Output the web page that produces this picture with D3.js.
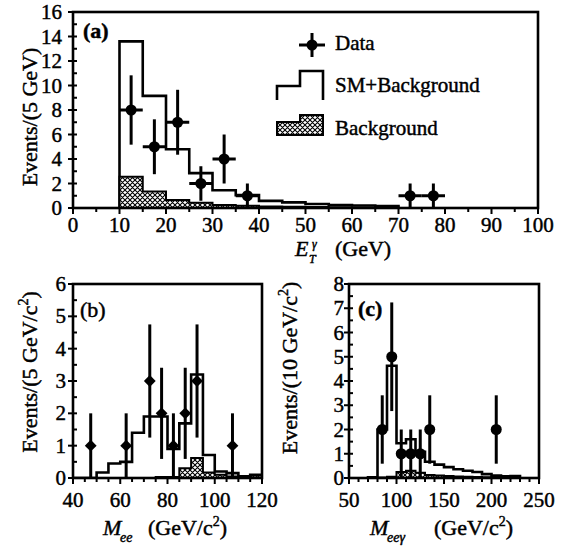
<!DOCTYPE html>
<html><head><meta charset="utf-8">
<script src="https://cdn.jsdelivr.net/npm/d3@7"></script>
<style>
html,body{margin:0;padding:0;background:#fff;}
svg text{stroke:#000;stroke-width:0.45px;fill:#000;}
</style></head>
<body>
<svg id="c" width="567" height="548" font-family="'Liberation Serif', 'Times New Roman', 'DejaVu Serif', serif"></svg>
<script>
// ---------- DATA ----------
// Panel (a): E_T^gamma, 5 GeV bins
const etBinLo = [10,15,20,25,30,35,40,45,50,55,60,65];
const etSMBkg = [13.6,9.15,4.8,2.85,1.45,1.05,0.58,0.46,0.33,0.25,0.2,0.15];
const etBkg   = [2.55,1.35,0.65,0.42,0.25,0.18,0.12,0.1,0.08,0.06,0.05,0.04];
const etDataX = [12.5,17.5,22.5,27.5,32.5,37.5,72.5,77.5];
const etDataY = [8,5,7,2,4,1,1,1];
const etDataErr = [2.83,2.24,2.65,1.41,2.0,1.0,1.0,1.0];
const etTicksX = [0,10,20,30,40,50,60,70,80,90,100];
const etTicksY = [0,2,4,6,8,10,12,14,16];

// Panel (b): M_ee, 5 GeV bins
const meeBinLo = [40,45,50,55,60,65,70,75,80,85,90,95,100,105,110,115];
const meeSMBkg = [0,0,0.17,0.45,0.5,1.4,1.9,1.9,0.9,1.69,3.2,0.71,0.2,0.15,0.05,0.1];
const meeBkg   = [0,0,0,0,0,0,0,0.03,0.03,0.3,0.62,0.17,0.1,0.05,0.03,0.08];
const meeDataX = [47.5,62.5,72.5,77.5,82.5,87.5,92.5,107.5];
const meeDataY = [1,1,3,2,1,2,3,1];
const meeDataErr = [1,1,1.75,1.41,1,1.41,1.75,1];
const meeTicksX = [40,60,80,100,120];
const meeTicksY = [0,1,2,3,4,5,6];

// Panel (c): M_eegamma, 10 GeV bins
const meegBinLo = [70,80,90,100,110,120,130,140,150,160,170,180,190,200,210,220];
const meegSMBkg = [0.03,2.0,4.63,1.43,1.6,1.08,0.67,0.55,0.45,0.36,0.3,0.25,0.16,0.1,0.07,0.08];
const meegBkg   = [0,0.02,0.05,0.25,0.3,0.22,0.12,0.1,0.08,0.06,0.05,0.04,0.03,0.03,0.02,0.06];
const meegDataX = [85,95,105,115,125,135,205];
const meegDataY = [2,5,1,1,1,2,2];
const meegDataErr = [1.41,2.24,1,1,1,1.41,1.41];
const meegTicksX = [50,100,150,200,250];
const meegTicksY = [0,1,2,3,4,5,6,7,8];

// ---------- DRAW ----------
const svg = d3.select("#c");
const defs = svg.append("defs");
const pat = defs.append("pattern").attr("id","hatch").attr("patternUnits","userSpaceOnUse")
  .attr("width",5).attr("height",5);
pat.append("rect").attr("width",5).attr("height",5).attr("fill","#fff");
pat.append("path").attr("d","M0,0L5,5M5,0L0,5M-1,4L1,6M4,-1L6,1M-1,1L1,-1M4,6L6,4")
  .attr("stroke","#000").attr("stroke-width",1.1);

const LW = 2.6;

function panel(o){
  const g = svg.append("g");
  const x = d3.scaleLinear().domain(o.xd).range([o.x0,o.x1]);
  const y = d3.scaleLinear().domain(o.yd).range([o.y0,o.y1]);
  const clipId = "clip"+o.id;
  defs.append("clipPath").attr("id",clipId).append("rect")
    .attr("x",o.x0).attr("y",o.y1).attr("width",o.x1-o.x0).attr("height",o.y0-o.y1);
  const inner = g.append("g").attr("clip-path",`url(#${clipId})`);

  function stepPts(lo,vals,w){
    const pts=[[x(lo[0]),y(0)]];
    lo.forEach((l,i)=>{pts.push([x(l),y(vals[i])]);pts.push([x(l+w),y(vals[i])]);});
    pts.push([x(lo[lo.length-1]+w),y(0)]);
    return pts;
  }
  const line = d3.line();
  inner.append("path").attr("d",line(stepPts(o.lo,o.sm,o.bw)))
    .attr("fill","none").attr("stroke","#000").attr("stroke-width",LW).attr("stroke-linejoin","miter");
  inner.append("path").attr("d",line(stepPts(o.lo,o.bkg,o.bw))+"Z")
    .attr("fill","url(#hatch)").attr("stroke","#000").attr("stroke-width",2).attr("stroke-linejoin","miter");

  const dg = inner.append("g");
  o.dx.forEach((xv,i)=>{
    const yv=o.dy[i], e=o.de[i];
    dg.append("line").attr("x1",x(xv)).attr("x2",x(xv))
      .attr("y1",y(Math.max(0,yv-e))).attr("y2",y(yv+e))
      .attr("stroke","#000").attr("stroke-width",3);
    if(o.xerr){
      dg.append("line").attr("x1",x(xv-o.xerr)).attr("x2",x(xv+o.xerr))
        .attr("y1",y(yv)).attr("y2",y(yv)).attr("stroke","#000").attr("stroke-width",3);
    }
    if(o.diamond){
      dg.append("path").attr("d",d3.symbol().type(d3.symbolSquare).size(70)())
        .attr("transform",`translate(${x(xv)},${y(yv)}) rotate(45)`).attr("fill","#000");
    } else {
      dg.append("circle").attr("cx",x(xv)).attr("cy",y(yv)).attr("r",5.5).attr("fill","#000");
    }
  });

  g.append("rect").attr("x",o.x0).attr("y",o.y1).attr("width",o.x1-o.x0).attr("height",o.y0-o.y1)
    .attr("fill","none").attr("stroke","#000").attr("stroke-width",LW);

  d3.range(o.xd[0],o.xd[1]+1e-9,o.xminor).forEach(v=>{
    const major = o.xt.some(t=>Math.abs(t-v)<1e-9);
    g.append("line").attr("x1",x(v)).attr("x2",x(v)).attr("y1",o.y0).attr("y2",o.y0+(major?6:4))
      .attr("stroke","#000").attr("stroke-width",2);
  });
  o.xt.forEach(v=>{
    g.append("text").attr("x",x(v)).attr("y",o.xlabY).attr("text-anchor","middle")
      .attr("font-size",21).text(v);
  });
  d3.range(o.yd[0],o.yd[1]+1e-9,o.yminor).forEach(v=>{
    const major = o.yt.some(t=>Math.abs(t-v)<1e-9);
    g.append("line").attr("x1",o.x0-(major?5:0)).attr("x2",o.x0+4).attr("y1",y(v)).attr("y2",y(v))
      .attr("stroke","#000").attr("stroke-width",2);
  });
  o.yt.forEach(v=>{
    g.append("text").attr("x",o.ylabX).attr("y",y(v)).attr("dy","0.34em").attr("text-anchor","end")
      .attr("font-size",21).text(v);
  });
  return {g,x,y};
}

panel({id:"a",xd:[0,100],yd:[0,16],x0:73,x1:538,y0:208,y1:12,
  lo:etBinLo,sm:etSMBkg,bkg:etBkg,bw:5,dx:etDataX,dy:etDataY,de:etDataErr,xerr:2.5,
  xt:etTicksX,yt:etTicksY,xminor:5,yminor:1,xlabY:232,ylabX:62});
panel({id:"b",xd:[40,120],yd:[0,6],x0:73,x1:262,y0:478,y1:284,
  lo:meeBinLo,sm:meeSMBkg,bkg:meeBkg,bw:5,dx:meeDataX,dy:meeDataY,de:meeDataErr,diamond:true,
  xt:meeTicksX,yt:meeTicksY,xminor:5,yminor:0.5,xlabY:507,ylabX:66});
panel({id:"c",xd:[50,250],yd:[0,8],x0:349,x1:539,y0:478,y1:284,
  lo:meegBinLo,sm:meegSMBkg,bkg:meegBkg,bw:10,dx:meegDataX,dy:meegDataY,de:meegDataErr,
  xt:meegTicksX,yt:meegTicksY,xminor:10,yminor:0.5,xlabY:507,ylabX:344});

svg.append("text").attr("x",83).attr("y",38).attr("font-size",22).attr("font-weight","bold").text("(a)");
svg.append("text").attr("x",80).attr("y",317).attr("font-size",22).text("(b)");
svg.append("text").attr("x",358).attr("y",316).attr("font-size",22).attr("font-weight","bold").text("(c)");

function ytitle(xb,yc,parts){
  const t = svg.append("text").attr("transform",`translate(${xb},${yc}) rotate(-90)`)
    .attr("text-anchor","middle").attr("font-size",22);
  parts.forEach(p=>{
    const s=t.append("tspan").text(p.t);
    if(p.sup){s.attr("font-size",14).attr("dy",-9);}
    if(p.back){s.attr("dy",9);}
  });
}
ytitle(37,117,[{t:"Events/(5 GeV)"}]);
ytitle(37,372,[{t:"Events/(5 GeV/c"},{t:"2",sup:true},{t:")",back:true}]);
ytitle(297,368,[{t:"Events/(10 GeV/c"},{t:"2",sup:true},{t:")",back:true}]);

svg.append("text").attr("x",295).attr("y",256).attr("font-size",22).attr("font-style","italic").text("E");
svg.append("text").attr("x",312).attr("y",248).attr("font-size",12).attr("font-style","italic").text("γ");
svg.append("text").attr("x",309).attr("y",263).attr("font-size",12).attr("font-style","italic").text("T");
svg.append("text").attr("x",335).attr("y",256).attr("font-size",22).text("(GeV)");

function mtitle(xm,sub,xp){
  svg.append("text").attr("x",xm).attr("y",535).attr("font-size",22).attr("font-style","italic").text("M");
  svg.append("text").attr("x",xm+17).attr("y",542).attr("font-size",14).attr("font-style","italic").text(sub);
  const t=svg.append("text").attr("x",xp).attr("y",535).attr("font-size",22);
  t.append("tspan").text("(GeV/c");
  t.append("tspan").attr("font-size",14).attr("dy",-9).text("2");
  t.append("tspan").attr("dy",9).text(")");
}
mtitle(103,"ee",148);
mtitle(370,"eeγ",434);

const lg = svg.append("g");
lg.append("line").attr("x1",299).attr("x2",325).attr("y1",45).attr("y2",45).attr("stroke","#000").attr("stroke-width",3);
lg.append("line").attr("x1",312).attr("x2",312).attr("y1",33).attr("y2",57).attr("stroke","#000").attr("stroke-width",3);
lg.append("circle").attr("cx",312).attr("cy",45).attr("r",5.5).attr("fill","#000");
lg.append("text").attr("x",335).attr("y",50).attr("font-size",21).text("Data");
lg.append("path").attr("d","M277,100V86H300V71H323V100").attr("fill","none").attr("stroke","#000").attr("stroke-width",LW);
lg.append("text").attr("x",335).attr("y",92).attr("font-size",21).text("SM+Background");
lg.append("path").attr("d","M277,135V122H300V115H323V135Z").attr("fill","url(#hatch)").attr("stroke","#000").attr("stroke-width",2);
lg.append("text").attr("x",335).attr("y",135).attr("font-size",21).text("Background");
</script>
</body></html>
